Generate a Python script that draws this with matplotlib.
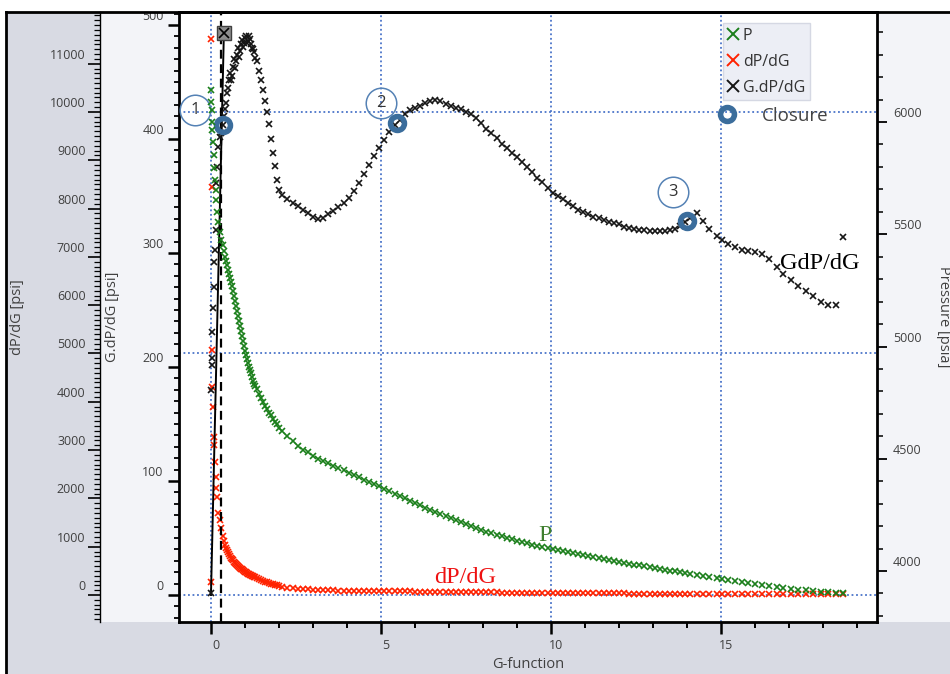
import matplotlib
matplotlib.use('Agg')
import matplotlib.pyplot as plt
from matplotlib.lines import Line2D
from matplotlib.patches import Rectangle
from matplotlib.ticker import MultipleLocator, FixedLocator
from matplotlib.transforms import ScaledTranslation, Bbox, TransformedBbox

plt.rcParams['font.family'] = ['Open Sans', 'DejaVu Sans']

# G-function samples shared by the three series
g_func = [
    0.00, 0.01, 0.02, 0.03, 0.04, 0.06, 0.08, 0.10, 0.12, 0.14, 0.16, 0.19, 0.22, 0.26, 0.30, 0.34, 0.38,
    0.41, 0.44, 0.47, 0.50, 0.53, 0.56, 0.59, 0.62, 0.65, 0.68, 0.71, 0.74, 0.77, 0.80, 0.83, 0.86,
    0.89, 0.92, 0.95, 0.98, 1.01, 1.04, 1.07, 1.10, 1.13, 1.16, 1.19, 1.22, 1.25, 1.28, 1.31,
    1.34, 1.40, 1.46, 1.52, 1.58, 1.64, 1.70, 1.76, 1.82, 1.88, 1.94, 2.00,
    2.10, 2.25, 2.40, 2.55, 2.70, 2.85, 3.00, 3.15, 3.30, 3.45, 3.60, 3.75, 3.90, 4.05, 4.20, 4.35,
    4.50, 4.65, 4.80, 4.95, 5.10, 5.25, 5.40, 5.55, 5.70, 5.85, 6.00, 6.15, 6.30, 6.45, 6.60, 6.75,
    6.90, 7.05, 7.20, 7.35, 7.50, 7.65, 7.80, 7.95, 8.10, 8.25, 8.40, 8.55, 8.70, 8.85, 9.00, 9.15,
    9.30, 9.45, 9.60, 9.75, 9.90, 10.05, 10.20, 10.35, 10.50, 10.65, 10.80, 10.95, 11.10, 11.25,
    11.40, 11.55, 11.70, 11.85, 12.00,
    12.15, 12.30, 12.45, 12.60, 12.75, 12.90, 13.05, 13.20, 13.35, 13.50, 13.65, 13.80, 13.95, 14.10,
    14.29, 14.48, 14.66, 14.87, 15.02, 15.22, 15.41, 15.61, 15.80, 16.00, 16.20, 16.42, 16.64, 16.83,
    17.05, 17.27, 17.49, 17.72, 17.94, 18.16, 18.38, 18.60,
]

# bottomhole pressure, psia (right axis)
pressure = [
    6142, 6089, 6053, 6000, 5964, 5911, 5853, 5795, 5742, 5697, 5652, 5599, 5554, 5510, 5474, 5452, 5425,
    5400, 5381, 5361, 5341, 5323, 5305, 5287, 5269, 5247, 5225, 5203, 5180, 5158, 5136, 5113, 5091,
    5069, 5047, 5024, 5002, 4982, 4962, 4944, 4926, 4910, 4895, 4880, 4864, 4848, 4833, 4822,
    4811, 4788, 4771, 4753, 4735, 4722, 4706, 4693, 4679, 4666, 4653, 4639,
    4624, 4601, 4579, 4559, 4541, 4528, 4514, 4501, 4490, 4479, 4468, 4457, 4448, 4438, 4428, 4417,
    4407, 4397, 4387, 4377, 4367, 4356, 4345, 4335, 4324, 4313, 4303, 4293, 4282, 4273, 4263, 4254,
    4245, 4236, 4227, 4218, 4209, 4200, 4192, 4184, 4176, 4169, 4162, 4156, 4149, 4143, 4136, 4130,
    4124, 4118, 4113, 4107, 4102, 4097, 4092, 4088, 4083, 4079, 4074, 4070, 4065, 4061,
    4057, 4053, 4049, 4045, 4041,
    4037, 4033, 4029, 4025, 4022, 4018, 4014, 4010, 4006, 4002, 3998, 3994, 3990, 3987,
    3982, 3978, 3973, 3969, 3964, 3960, 3955, 3951, 3947, 3942, 3938, 3933, 3929, 3924,
    3920, 3917, 3914, 3911, 3908, 3906, 3903, 3901,
]

# derivative dP/dG, psi (outer left axis)
dp_dg = [
    275, 11505, 8453, 5070, 4313, 3899, 3278, 3106, 2760, 2449, 2209, 2035, 1691, 1550, 1380, 1230, 1110,
    1040, 980, 935, 890, 845, 800, 770, 740, 715, 690, 665, 640, 617, 595, 577, 560,
    544, 528, 514, 500, 486, 472, 458, 445, 432, 420, 409, 398, 386, 375, 363,
    352, 330, 310, 292, 276, 262, 248, 234, 222, 210, 198, 188,
    168, 155, 144, 134, 126, 118, 111, 106, 101, 97, 94, 91, 88, 86, 85, 84,
    83, 82, 81, 80, 79, 78, 77, 76, 75, 73, 72, 71, 69, 68, 66, 65,
    63, 62, 60, 59, 58, 57, 56, 55, 54, 53, 52, 51, 50, 49, 48, 47,
    46, 45, 44, 43, 42, 41, 40, 39, 38, 38, 37, 36, 36, 35,
    34, 34, 33, 33, 32,
    32, 31, 31, 30, 30, 30, 29, 29, 29, 29, 29, 28, 28, 28,
    28, 28, 27, 27, 27, 26, 26, 26, 25, 25, 25, 24, 24, 24,
    23, 23, 23, 22, 22, 22, 22, 24,
]

# superposition derivative G.dP/dG, psi (inner left axis)
g_dp_dg = [
    2, 180, 202, 208, 231, 252, 270, 292, 303, 320, 361, 375, 393, 402, 405, 412, 420,
    426, 432, 440, 445, 452, 458, 452, 455, 463, 470, 462, 468, 474, 480, 472, 477,
    483, 487, 481, 484, 489, 490, 484, 486, 490, 488, 483, 480, 479, 476, 471,
    468, 460, 452, 443, 433, 424, 413, 400, 388, 376, 364, 355,
    351, 347, 344, 341, 338, 335, 332, 330, 331, 334, 337, 340, 344, 348, 354, 361,
    369, 377, 385, 392, 399, 406, 412, 417, 422, 425, 427, 429, 432, 433, 434, 433,
    431, 429, 427, 426, 424, 422, 418, 414, 409, 405, 401, 396, 392, 388, 384, 380,
    375, 371, 366, 362, 357, 353, 350, 347, 344, 341, 338, 336, 334, 332,
    331, 329, 327, 326, 325,
    323, 322, 321, 320, 320, 319, 319, 319, 319, 320, 321, 324, 327, 331,
    335, 328, 321, 315, 311, 308, 305, 303, 302, 301, 299, 295, 288, 282,
    276, 271, 267, 262, 257, 254, 254, 314,
]

# closure picks on the G.dP/dG curve
closure_g = [0.36, 5.46, 13.99]
closure_v = [412, 414, 328]
closure_names = ['1', '2', '3']
name_offsets = [(-28, 15), (-16, 20), (-14, 29)]   # pixels from the pick

# straight line from the origin, and the dashed closure line
tangent_g = [0.0, 0.38]
tangent_v = [0, 493]
closure_line_g = 0.3

grid_dpdg = [0, 5000, 10000]

green = '#1b7f1b'
red = '#ff2200'
black = '#161616'
ring = '#3b6d9c'
gridc = '#4a74c9'
tickc = '#404040'
grey = '#d8dae3'
light = '#f3f4f8'

W, H = 950, 674
fig = plt.figure(figsize=(W / 100, H / 100), dpi=100)


def fx(px):
    return px / W


def fy(py):
    return 1 - py / H


# panels and outer frame
fig.add_artist(Rectangle((fx(7), 0), 1 - fx(7), fy(13), facecolor=light, edgecolor='none', zorder=-3))
fig.add_artist(Rectangle((fx(7), 0), fx(100) - fx(7), fy(13), facecolor=grey, edgecolor='none', zorder=-2))
fig.add_artist(Rectangle((fx(7), 0), 1 - fx(7), fy(622), facecolor=grey, edgecolor='none', zorder=-2))
fig.add_artist(Line2D([fx(6), fx(6)], [0, fy(12)], color='black', lw=2, zorder=10))
fig.add_artist(Line2D([fx(6), 1], [fy(12), fy(12)], color='black', lw=2, zorder=10))

ax2 = fig.add_axes([fx(179), fy(622), fx(877) - fx(179), fy(12) - fy(622)])  # dP/dG
ax1 = ax2.twinx()  # G.dP/dG
ax3 = ax2.twinx()  # pressure
ax1.yaxis.tick_left()
ax1.yaxis.set_label_position('left')
ax2.set_facecolor('white')

ax2.set_xlim(-0.94, 19.59)
ax2.set_ylim(-559, 12070)
ax1.set_ylim(-23.7, 511.4)
ax3.set_ylim(3773, 6490)

# spines
ax2.spines['left'].set_position(('axes', (100 - 179) / 698))
ax2.spines['left'].set_linewidth(1.0)
ax2.spines['right'].set_visible(False)
ax2.spines['top'].set_linewidth(2)
ax2.spines['bottom'].set_linewidth(2)
for s in ['right', 'top', 'bottom']:
    ax1.spines[s].set_visible(False)
ax1.spines['left'].set_linewidth(2)
for s in ['left', 'top', 'bottom']:
    ax3.spines[s].set_visible(False)
ax3.spines['right'].set_linewidth(2)

# grid
ax2.set_axisbelow(True)
ax2.xaxis.grid(True, which='major', color=gridc, ls=(0, (1, 1.5)), lw=1.3)
for v in grid_dpdg:
    ax2.axhline(v, color=gridc, ls=(0, (1, 1.5)), lw=1.3, zorder=1)

# series
mk = dict(ls='none', marker='x', ms=5, mew=1.2)
ax2.plot(g_func, dp_dg, color=red, **mk)
ax1.axvline(closure_line_g, color='black', ls=(0, (4, 2.5)), lw=1.6)
ax1.plot(tangent_g, tangent_v, color='black', lw=1.4)
ax1.plot(g_func, g_dp_dg, color=black, **mk)
ax1.plot(tangent_g[-1], tangent_v[-1], marker='s', ms=10, mfc='#8c8c8c', mec='#404040', mew=1, zorder=5)
ax1.plot(tangent_g[-1], tangent_v[-1], marker='x', ms=7, mew=1.2, color='black', zorder=6)
ax3.plot(g_func, pressure, color=green, **mk)

# closure picks with their numbered circles
ax1.plot(closure_g, closure_v, ls='none', marker='o', ms=10, mfc='none', mec=ring, mew=4, zorder=7)
for g, v, name, (dx, dy) in zip(closure_g, closure_v, closure_names, name_offsets):
    tr = ax1.transData + ScaledTranslation(dx / 100, dy / 100, fig.dpi_scale_trans)
    ax1.plot(g, v, marker='o', ms=22, mfc='none', mec='#5582b5', mew=1.1, transform=tr, zorder=7)
    ax1.text(g, v, name, transform=tr, ha='center', va='center', fontsize=12, color='#333333', zorder=8)

# curve names
serif = ['Liberation Serif', 'DejaVu Serif']
ax1.text(17.91, 291, 'GdP/dG', family=serif, fontsize=17.5, color='black', ha='center', va='center')
ax3.text(9.82, 4160, 'P', family=serif, fontsize=17.5, color='#3f7f2f', ha='center', va='center')
ax2.text(7.47, 352, 'dP/dG', family=serif, fontsize=17.5, color='#ee1111', ha='center', va='center')

# ticks
ax2.xaxis.set_major_locator(MultipleLocator(5))
ax2.xaxis.set_minor_locator(MultipleLocator(1))
ax2.yaxis.set_major_locator(FixedLocator(list(range(0, 12000, 1000))))
ax2.yaxis.set_minor_locator(MultipleLocator(100))
ax1.yaxis.set_major_locator(MultipleLocator(100))
ax1.yaxis.set_minor_locator(MultipleLocator(10))
ax3.yaxis.set_major_locator(MultipleLocator(500))
ax3.yaxis.set_minor_locator(MultipleLocator(100))

ax2.tick_params(axis='x', which='major', direction='out', length=8.5, width=1.8, pad=4,
                labelsize=9, labelcolor=tickc)
ax2.tick_params(axis='x', which='minor', direction='out', length=4.5, width=1.4)
ax2.tick_params(axis='y', which='major', direction='out', length=8.5, width=1.2, pad=2,
                labelsize=9, labelcolor=tickc)
ax2.tick_params(axis='y', which='minor', direction='out', length=4.3, width=0.9)
ax1.tick_params(axis='y', which='major', direction='out', length=8, width=1.8, pad=3,
                labelsize=9, labelcolor=tickc)
ax1.tick_params(axis='y', which='minor', direction='out', length=3.6, width=1.3)
ax3.tick_params(axis='y', which='major', direction='out', length=7.5, width=1.3, pad=4,
                labelsize=9, labelcolor=tickc)
ax3.tick_params(axis='y', which='minor', direction='out', length=4.3, width=1.1)

# axis titles
ax2.set_ylabel('dP/dG [psi]', fontsize=10.5, color=tickc, va='center')
ax2.yaxis.set_label_coords((18 - 179) / 698, 0.5)
ax1.set_ylabel('G.dP/dG [psi]', fontsize=10.5, color=tickc, va='center')
ax1.yaxis.set_label_coords((112 - 179) / 698, 0.5)
ax3.set_ylabel('Pressure [psia]', fontsize=10.5, color=tickc, rotation=270, va='center')
ax3.yaxis.set_label_coords((944 - 179) / 698, 0.5)
ax2.set_xlabel('G-function', fontsize=10.5, color=tickc, va='center')
ax2.xaxis.set_label_coords(0.5, (622 - 665) / 610)

# tick labels sit a little above their ticks, x labels a little right
up = ScaledTranslation(0, 0.10, fig.dpi_scale_trans)
right = ScaledTranslation(0.05, 0, fig.dpi_scale_trans)
clip = TransformedBbox(Bbox([[0, 0], [1, fy(13)]]), fig.transFigure)
for a in (ax2, ax1, ax3):
    for lab in a.get_yticklabels():
        lab.set_transform(lab.get_transform() + up)
        lab.set_clip_box(clip)
        lab.set_clip_on(True)
for lab in ax2.get_xticklabels():
    lab.set_transform(lab.get_transform() + right)

# legends
handles = [Line2D([], [], ls='none', marker='x', ms=8, mew=1.4, color=c) for c in (green, red, black)]
leg = fig.legend(handles, ['P', 'dP/dG', 'G.dP/dG'], loc='upper left',
                 bbox_to_anchor=(fx(723), fy(23)), fontsize=11.5, frameon=True, fancybox=False,
                 framealpha=1, facecolor='#eceef5', edgecolor='#d5d8e3', handlelength=0.7,
                 handletextpad=0.25, labelspacing=0.62, borderpad=0.3, borderaxespad=0)
for t in leg.get_texts():
    t.set_color('#333333')
ring_handle = Line2D([], [], ls='none', marker='o', ms=10, mfc='none', mec=ring, mew=4)
leg2 = fig.legend([ring_handle], ['Closure'], loc='center left', bbox_to_anchor=(fx(716), fy(116)),
                  frameon=False, fontsize=13.5, handlelength=1.2, handletextpad=1.25,
                  borderpad=0, borderaxespad=0)
for t in leg2.get_texts():
    t.set_color('#444444')

fig.savefig('out.png', dpi=100)
